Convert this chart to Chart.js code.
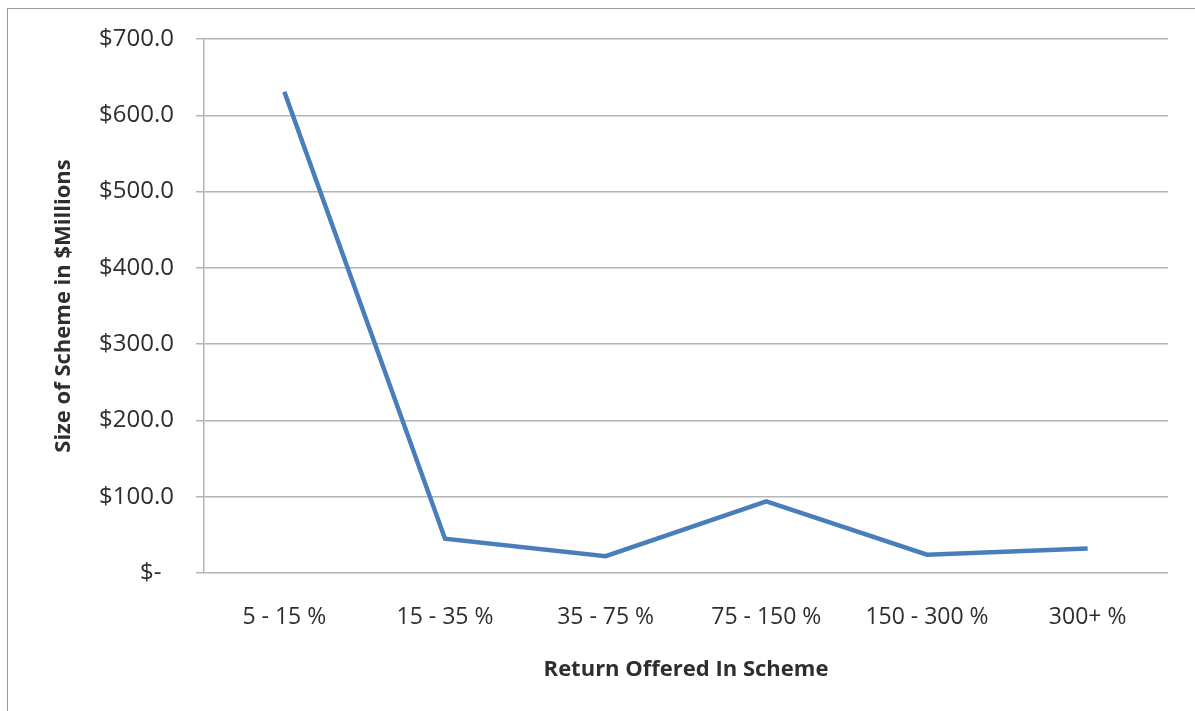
<!DOCTYPE html>
<html>
<head>
<meta charset="utf-8">
<script src="https://cdn.jsdelivr.net/npm/chart.js@4/dist/chart.umd.min.js"></script>
<style>
  html, body { margin: 0; padding: 0; background: #fff; }
  #wrap { position: relative; width: 1195px; height: 711px; overflow: hidden; }
  #frame { position: absolute; left: 7px; top: 8px; width: 1300px; height: 800px;
           border-left: 1px solid #9a9a9a; border-top: 1px solid #9a9a9a; pointer-events: none; }
  canvas { position: absolute; left: 0; top: 0; }
</style>
</head>
<body>
<div id="wrap">
  <canvas id="c" width="1195" height="711"></canvas>
  <div id="frame"></div>
</div>
<script>
const categories = ["5 - 15 %", "15 - 35 %", "35 - 75 %", "75 - 150 %", "150 - 300 %", "300+ %"];
const schemeSize = [631, 45, 22, 94, 24, 32];
const yTicks = [0, 100, 200, 300, 400, 500, 600, 700];
const xTitle = "Return Offered In Scheme";
const yTitle = "Size of Scheme in $Millions";

const FONT = "'Open Sans', 'Liberation Sans', sans-serif";
const TEXT = "#2e2e2e";
const GRID = "#b4b4b4";

new Chart(document.getElementById('c'), {
  type: 'line',
  data: {
    labels: categories,
    datasets: [{
      data: schemeSize,
      borderColor: '#4a7ebb',
      borderWidth: 4.5,
      pointRadius: 0,
      pointHoverRadius: 0,
      tension: 0,
      fill: false
    }]
  },
  options: {
    responsive: false,
    animation: false,
    devicePixelRatio: 1,
    layout: { padding: { left: 0, top: 39, right: 27, bottom: 0 } },
    plugins: { legend: { display: false }, tooltip: { enabled: false } },
    scales: {
      x: {
        type: 'category',
        offset: true,
        grid: { display: false, drawTicks: false },
        border: { display: false },
        ticks: { color: TEXT, font: { family: FONT, size: 23 }, padding: 31, maxRotation: 0, autoSkip: false },
        title: { display: true, text: xTitle, color: TEXT,
                 font: { family: FONT, size: 22, weight: 'bold' }, padding: { top: 0, bottom: 28 } },
        afterFit: (s) => { s.height = 711 - 573; }
      },
      y: {
        min: 0,
        max: 700,
        afterBuildTicks: (s) => { s.ticks = yTicks.map(v => ({ value: v })); },
        grid: { color: GRID, lineWidth: 1.5, tickLength: 8, drawTicks: true },
        border: { display: true, color: GRID, width: 1.5 },
        ticks: {
          color: TEXT, font: { family: FONT, size: 24 }, padding: 22,
          callback: (v) => v === 0 ? '$-  ' : '$' + Number(v).toFixed(1)
        },
        title: { display: true, text: yTitle, color: TEXT,
                 font: { family: FONT, size: 22, weight: 'bold' }, padding: { top: 51, bottom: 0 } },
        afterFit: (s) => { s.width = 204; }
      }
    }
  }
});
</script>
</body>
</html>
